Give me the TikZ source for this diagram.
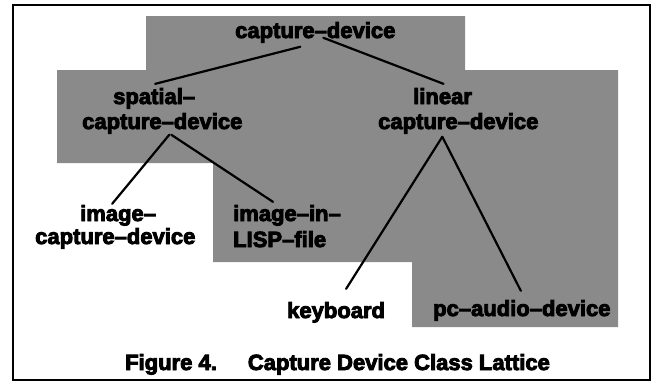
\documentclass[tikz,border=0pt]{standalone}
\usepackage{fontspec}
\setmainfont{Liberation Sans}[BoldFeatures={FakeBold=4}]
\usetikzlibrary{calc}
\definecolor{halftone}{gray}{0.54}
\begin{document}
\begin{tikzpicture}[x=1pt,y=-1pt,
  lbl/.style={anchor=base west, inner sep=0pt, font=\fontsize{22}{25}\selectfont\bfseries},
  edge/.style={line width=2.2pt, line cap=round}]
\useasboundingbox (0,0) rectangle (652,384);
% halftone background
\fill[halftone] (146,16) -- (465,16) -- (465,70) -- (618,70) -- (618,327)
  -- (412,327) -- (412,262) -- (213,262) -- (213,163) -- (57,163)
  -- (57,70) -- (146,70) -- cycle;
% frame
\draw[line width=2pt] (13,5) rectangle (650,380);
% labels
\node[lbl] (top) at (235,38) {capture–device};
\node[lbl] (sp1) at (113,104) {spatial–};
\node[lbl] (sp2) at (82,129) {capture–device};
\node[lbl] (li1) at (413,104) {linear};
\node[lbl] (li2) at (378,129) {capture–device};
\node[lbl] (im1) at (80,221) {image–};
\node[lbl] (im2) at (35,244) {capture–device};
\node[lbl] (ls1) at (233,221) {image–in–};
\node[lbl] (ls2) at (233,247) {LISP–file};
\node[lbl] (kb) at (287,318) {keyboard};
\node[lbl] (pc) at (433,316) {pc–audio–device};
\node[lbl] (cap) at (125,370) {Figure 4.\hspace{31pt}Capture Device Class Lattice};
% connectors
\draw[edge] ($(top.south)+(-15,4)$) -- ($(sp1.north)+(1,-4)$);
\draw[edge] ($(top.south)+(8,-5)$) -- ($(li1.north)+(1,-4)$);
\draw[edge] ($(sp2.south)+(7,1)$) -- ($(im1.north)+(-6,-1)$);
\draw[edge] ($(sp2.south)+(9,1)$) -- ($(ls1.north)+(-14,-3)$);
\draw[edge] ($(li2.south)+(-16,3)$) -- ($(kb.north)+(10,-13)$);
\draw[edge] ($(li2.south)+(-16,3)$) -- ($(pc.north)+(-1,-9)$);
\end{tikzpicture}
\end{document}
